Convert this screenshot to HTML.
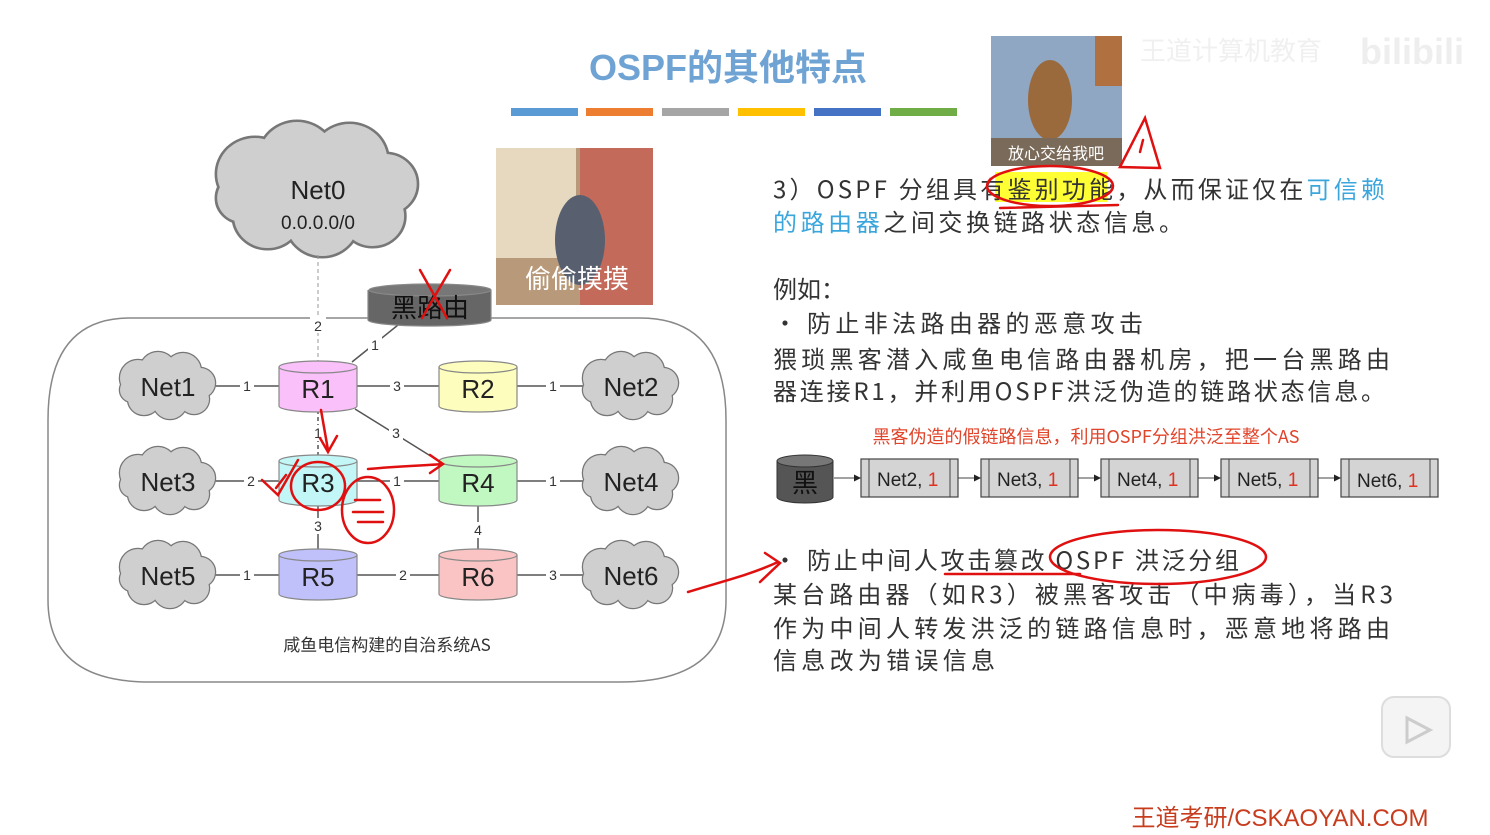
<!DOCTYPE html>
<html><head><meta charset="utf-8"><style>
body{margin:0;background:#fff;}
svg{display:block}
text{font-family:"Liberation Sans","Noto Sans CJK SC",sans-serif;}
.t{font-family:"Noto Sans CJK SC","Liberation Sans",sans-serif;font-size:24px;fill:#333;}
</style></head><body>
<svg width="1490" height="835" viewBox="0 0 1490 835" xmlns="http://www.w3.org/2000/svg">
<defs>
<g id="cloud">
 <g fill="none" stroke="#777" stroke-width="2.5">
  <circle cx="-30" cy="-8" r="18"/><circle cx="-10" cy="-16" r="18"/><circle cx="15" cy="-15" r="18"/><circle cx="32" cy="-3" r="15"/><circle cx="26" cy="13" r="15"/><circle cx="2" cy="16" r="17"/><circle cx="-24" cy="13" r="16"/><circle cx="-36" cy="4" r="12"/>
 </g>
 <g fill="#cfcfcf">
  <circle cx="-30" cy="-8" r="18"/><circle cx="-10" cy="-16" r="18"/><circle cx="15" cy="-15" r="18"/><circle cx="32" cy="-3" r="15"/><circle cx="26" cy="13" r="15"/><circle cx="2" cy="16" r="17"/><circle cx="-24" cy="13" r="16"/><circle cx="-36" cy="4" r="12"/><ellipse cx="0" cy="0" rx="34" ry="22"/>
 </g>
</g>
</defs>

<!-- title -->
<text x="728" y="80" text-anchor="middle" font-size="36" font-weight="bold" fill="#6fa3d4" style="font-family:'Liberation Sans','Noto Sans CJK SC',sans-serif">OSPF的其他特点</text>
<rect x="511" y="108" width="67" height="8" fill="#5b9bd5"/>
<rect x="586" y="108" width="67" height="8" fill="#ed7d31"/>
<rect x="662" y="108" width="67" height="8" fill="#a5a5a5"/>
<rect x="738" y="108" width="67" height="8" fill="#ffc000"/>
<rect x="814" y="108" width="67" height="8" fill="#4472c4"/>
<rect x="890" y="108" width="67" height="8" fill="#70ad47"/>

<!-- AS boundary -->
<path d="M130,318 L640,318 Q726,318 726,420 L726,600 Q726,682 620,682 L150,682 Q48,682 48,600 L48,420 Q48,318 130,318 Z" fill="none" stroke="#888" stroke-width="1.5"/>

<!-- Net0 -->
<g transform="translate(318,190) scale(2.1,2.0)"><use href="#cloud"/></g>
<text x="318" y="199" text-anchor="middle" font-size="26" fill="#222">Net0</text>
<text x="318" y="229" text-anchor="middle" font-size="19" fill="#222">0.0.0.0/0</text>
<line x1="318" y1="255" x2="318" y2="362" stroke="#999" stroke-dasharray="4,3"/>
<rect x="310" y="317" width="16" height="16" fill="#fff"/>
<text x="318" y="331" text-anchor="middle" font-size="14" fill="#333">2</text>

<!-- links -->
<g stroke="#555" stroke-width="1.5">
<line x1="210" y1="386" x2="280" y2="386"/><line x1="356" y1="386" x2="440" y2="386"/><line x1="516" y1="386" x2="590" y2="386"/>
<line x1="210" y1="481" x2="280" y2="481"/><line x1="356" y1="481" x2="440" y2="481"/><line x1="516" y1="481" x2="590" y2="481"/>
<line x1="210" y1="575" x2="280" y2="575"/><line x1="356" y1="575" x2="440" y2="575"/><line x1="516" y1="575" x2="590" y2="575"/>
<line x1="355" y1="409" x2="445" y2="465"/>
<line x1="318" y1="410" x2="318" y2="460" stroke-dasharray="4,3"/>
<line x1="318" y1="505" x2="318" y2="552"/>
<line x1="478" y1="505" x2="478" y2="552"/>
<line x1="352" y1="362" x2="398" y2="325"/>
</g>
<g font-size="14" fill="#333" text-anchor="middle">
<rect x="240" y="378" width="14" height="16" fill="#fff"/><text x="247" y="391">1</text>
<rect x="390" y="378" width="14" height="16" fill="#fff"/><text x="397" y="391">3</text>
<rect x="546" y="378" width="14" height="16" fill="#fff"/><text x="553" y="391">1</text>
<rect x="244" y="473" width="14" height="16" fill="#fff"/><text x="251" y="486">2</text>
<rect x="390" y="473" width="14" height="16" fill="#fff"/><text x="397" y="486">1</text>
<rect x="546" y="473" width="14" height="16" fill="#fff"/><text x="553" y="486">1</text>
<rect x="240" y="567" width="14" height="16" fill="#fff"/><text x="247" y="580">1</text>
<rect x="396" y="567" width="14" height="16" fill="#fff"/><text x="403" y="580">2</text>
<rect x="546" y="567" width="14" height="16" fill="#fff"/><text x="553" y="580">3</text>
<rect x="389" y="425" width="14" height="16" fill="#fff"/><text x="396" y="438">3</text>
<rect x="311" y="425" width="14" height="16" fill="#fff"/><text x="318" y="438">1</text>
<rect x="311" y="518" width="14" height="16" fill="#fff"/><text x="318" y="531">3</text>
<rect x="471" y="522" width="14" height="16" fill="#fff"/><text x="478" y="535">4</text>
<rect x="368" y="337" width="14" height="16" fill="#fff"/><text x="375" y="350">1</text>
</g>

<!-- clouds -->
<g transform="translate(168,386)"><use href="#cloud"/></g>
<g transform="translate(631,386)"><use href="#cloud"/></g>
<g transform="translate(168,481)"><use href="#cloud"/></g>
<g transform="translate(631,481)"><use href="#cloud"/></g>
<g transform="translate(168,575)"><use href="#cloud"/></g>
<g transform="translate(631,575)"><use href="#cloud"/></g>
<g font-size="26" fill="#222" text-anchor="middle">
<text x="168" y="396">Net1</text><text x="631" y="396">Net2</text>
<text x="168" y="491">Net3</text><text x="631" y="491">Net4</text>
<text x="168" y="585">Net5</text><text x="631" y="585">Net6</text>
</g>

<!-- routers -->
<g stroke="#888" stroke-width="1.2">
<path d="M279,367 L279,406 A39,6 0 0 0 357,406 L357,367" fill="#f9c0f9"/><ellipse cx="318" cy="367" rx="39" ry="6" fill="#f9c0f9"/>
<path d="M439,367 L439,406 A39,6 0 0 0 517,406 L517,367" fill="#fdfdbd"/><ellipse cx="478" cy="367" rx="39" ry="6" fill="#fdfdbd"/>
<path d="M279,461 L279,500 A39,6 0 0 0 357,500 L357,461" fill="#c3f7f7"/><ellipse cx="318" cy="461" rx="39" ry="6" fill="#c3f7f7"/>
<path d="M439,461 L439,500 A39,6 0 0 0 517,500 L517,461" fill="#c1f7c1"/><ellipse cx="478" cy="461" rx="39" ry="6" fill="#c1f7c1"/>
<path d="M279,555 L279,594 A39,6 0 0 0 357,594 L357,555" fill="#c0c0fa"/><ellipse cx="318" cy="555" rx="39" ry="6" fill="#c0c0fa"/>
<path d="M439,555 L439,594 A39,6 0 0 0 517,594 L517,555" fill="#fac4c4"/><ellipse cx="478" cy="555" rx="39" ry="6" fill="#fac4c4"/>
<path d="M368,290 L368,320 A61,6 0 0 0 491,320 L491,290" fill="#666"/><ellipse cx="430" cy="290" rx="61" ry="6" fill="#777"/>
</g>
<g font-size="26" fill="#222" text-anchor="middle">
<text x="318" y="398">R1</text><text x="478" y="398">R2</text>
<text x="318" y="492">R3</text><text x="478" y="492">R4</text>
<text x="318" y="586">R5</text><text x="478" y="586">R6</text>
</g>
<text x="430" y="317" text-anchor="middle" font-size="26" fill="#111" style="font-family:'Noto Sans CJK SC',sans-serif">黑路由</text>

<text x="387" y="651" text-anchor="middle" font-size="17" fill="#333" style="font-family:'Noto Sans CJK SC',sans-serif">咸鱼电信构建的自治系统AS</text>

<!-- images -->
<rect x="496" y="148" width="157" height="157" fill="#b89a7a"/>
<rect x="496" y="148" width="80" height="110" fill="#e7d9c0"/>
<rect x="580" y="148" width="73" height="157" fill="#c46a5a"/>
<ellipse cx="580" cy="240" rx="25" ry="45" fill="#586070"/>
<text x="577" y="288" text-anchor="middle" font-size="26" fill="#fff" style="font-family:'Noto Sans CJK SC',sans-serif">偷偷摸摸</text>
<rect x="991" y="36" width="131" height="130" fill="#8fa7c2"/>
<rect x="1095" y="36" width="27" height="50" fill="#b07040"/>
<ellipse cx="1050" cy="100" rx="22" ry="40" fill="#9a6a3c"/>
<rect x="991" y="138" width="131" height="28" fill="#7a6a5a"/>
<text x="1056" y="159" text-anchor="middle" font-size="16" fill="#fff" style="font-family:'Noto Sans CJK SC',sans-serif">放心交给我吧</text>
<text x="1140" y="60" font-size="26" fill="#f0f0f0" style="font-family:'Noto Sans CJK SC',sans-serif">王道计算机教育</text>
<text x="1360" y="64" font-size="36" font-weight="bold" fill="#eee">bilibili</text>

<!-- right text -->
<rect x="995" y="172" width="112" height="30" fill="#ffff33"/>
<text class="t" x="773" y="198" textLength="612">3）OSPF 分组具有鉴别功能，从而保证仅在<tspan fill="#3aa6dc">可信赖</tspan></text>
<text class="t" x="773" y="231" textLength="410"><tspan fill="#3aa6dc">的路由器</tspan>之间交换链路状态信息。</text>
<text class="t" x="773" y="298">例如：</text>
<text class="t" x="773" y="332">•</text>
<text class="t" x="807" y="332" textLength="336">防止非法路由器的恶意攻击</text>
<text class="t" x="773" y="368" textLength="617">猥琐黑客潜入咸鱼电信路由器机房，把一台黑路由</text>
<text class="t" x="773" y="400" textLength="612">器连接R1，并利用OSPF洪泛伪造的链路状态信息。</text>
<text x="1086" y="443" text-anchor="middle" font-size="18" fill="#e0442a" style="font-family:'Noto Sans CJK SC',sans-serif">黑客伪造的假链路信息，利用OSPF分组洪泛至整个AS</text>

<!-- chain -->
<path d="M777,461 L777,497 A28,6 0 0 0 833,497 L833,461" fill="#555" stroke="#333"/><ellipse cx="805" cy="461" rx="28" ry="6" fill="#777" stroke="#333"/>
<text x="805" y="492" text-anchor="middle" font-size="26" fill="#111" style="font-family:'Noto Sans CJK SC',sans-serif">黑</text>
<g stroke="#444" stroke-width="1.2" fill="#d4d4d4">
<rect x="861" y="459" width="97" height="38"/><rect x="981" y="459" width="97" height="38"/><rect x="1101" y="459" width="97" height="38"/><rect x="1221" y="459" width="97" height="38"/><rect x="1341" y="459" width="97" height="38"/>
</g>
<g stroke="#444" stroke-width="1">
<line x1="869" y1="459" x2="869" y2="497"/><line x1="950" y1="459" x2="950" y2="497"/>
<line x1="989" y1="459" x2="989" y2="497"/><line x1="1070" y1="459" x2="1070" y2="497"/>
<line x1="1109" y1="459" x2="1109" y2="497"/><line x1="1190" y1="459" x2="1190" y2="497"/>
<line x1="1229" y1="459" x2="1229" y2="497"/><line x1="1310" y1="459" x2="1310" y2="497"/>
<line x1="1349" y1="459" x2="1349" y2="497"/><line x1="1430" y1="459" x2="1430" y2="497"/>
<line x1="834" y1="478" x2="855" y2="478"/><line x1="958" y1="478" x2="975" y2="478"/><line x1="1078" y1="478" x2="1095" y2="478"/><line x1="1198" y1="478" x2="1215" y2="478"/><line x1="1318" y1="478" x2="1335" y2="478"/>
</g>
<g fill="#222"><path d="M861,478 l-7,-3.5 v7z"/><path d="M981,478 l-7,-3.5 v7z"/><path d="M1101,478 l-7,-3.5 v7z"/><path d="M1221,478 l-7,-3.5 v7z"/><path d="M1341,478 l-7,-3.5 v7z"/></g>
<g font-size="19" fill="#222">
<text x="877" y="486">Net2, <tspan fill="#e0301e">1</tspan></text>
<text x="997" y="486">Net3, <tspan fill="#e0301e">1</tspan></text>
<text x="1117" y="486">Net4, <tspan fill="#e0301e">1</tspan></text>
<text x="1237" y="486">Net5, <tspan fill="#e0301e">1</tspan></text>
<text x="1357" y="487">Net6, <tspan fill="#e0301e">1</tspan></text>
</g>

<text class="t" x="773" y="569">•</text>
<text class="t" x="807" y="569" textLength="432">防止中间人攻击篡改 OSPF 洪泛分组</text>
<text class="t" x="773" y="603" textLength="620">某台路由器（如R3）被黑客攻击（中病毒），当R3</text>
<text class="t" x="773" y="637" textLength="617">作为中间人转发洪泛的链路信息时，恶意地将路由</text>
<text class="t" x="773" y="669" textLength="222">信息改为错误信息</text>

<!-- red annotations -->
<g fill="none" stroke="#e01010" stroke-width="2.5" stroke-linecap="round">
<path d="M420,270 L447,318 M450,270 L422,318"/>
<path d="M321,410 L328,450 M320,438 L328,452 L337,436"/>
<ellipse cx="318" cy="486" rx="27" ry="24"/>
<path d="M276,488 L286,475 M262,480 L278,495 L298,460"/>
<ellipse cx="368" cy="510" rx="26" ry="33"/>
<path d="M355,500 h25 M353,512 h30 M358,522 h25"/>
<path d="M368,469 C400,466 420,466 442,464 M430,455 L443,464 L430,473"/>
<ellipse cx="1050" cy="186" rx="63" ry="20"/>
<path d="M1000,208 L1118,205"/>
<path d="M1120,167 L1145,118 L1160,168 Z M1143,140 L1140,152"/>
<ellipse cx="1158" cy="557" rx="108" ry="27"/>
<path d="M945,574 L1080,574"/>
<path d="M688,592 C720,582 750,575 778,562 M765,553 L780,563 L760,582"/>
</g>

<!-- play button -->
<rect x="1382" y="697" width="68" height="60" rx="12" fill="#f4f4f4" stroke="#ddd" stroke-width="2"/>
<path d="M1407,718 L1430,730 L1407,742 Z" fill="none" stroke="#ccc" stroke-width="3"/>

<text x="1280" y="826" text-anchor="middle" font-size="24" fill="#c83c1e" style="font-family:'Liberation Sans','Noto Sans CJK SC',sans-serif">王道考研/CSKAOYAN.COM</text>
</svg>
</body></html>
